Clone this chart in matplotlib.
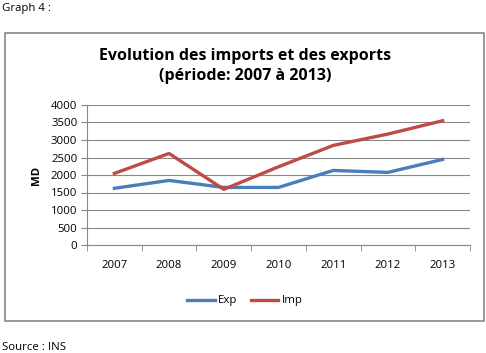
import matplotlib.pyplot as plt
from matplotlib.patches import Rectangle

years = ['2007', '2008', '2009', '2010', '2011', '2012', '2013']
exp_vals = [1620, 1845, 1645, 1645, 2130, 2075, 2445]
imp_vals = [2045, 2615, 1590, 2235, 2845, 3170, 3550]

plt.rcParams['font.family'] = ['Open Sans', 'DejaVu Sans']

fig = plt.figure(figsize=(4.86, 3.53), dpi=100)
W, H = 486, 353

# chart border
fig.patches.append(Rectangle((5 / W, 1 - 321 / H), 479 / W, 288 / H,
                             transform=fig.transFigure, fill=False,
                             edgecolor='#888888', linewidth=1.2))

fig.text(2 / W, 1 - 8 / H, 'Graph 4 :', fontsize=8.2, va='center', ha='left')
fig.text(2 / W, 1 - 347 / H, 'Source : INS', fontsize=8.2, va='center', ha='left')
fig.text(245 / W, 1 - 66 / H, 'Evolution des imports et des exports\n(période: 2007 à 2013)',
         fontsize=11.5, fontweight='bold', ha='center', va='center', linespacing=1.35)

ax = fig.add_axes([87 / W, 1 - 245 / H, 383 / W, 140 / H])
x = range(len(years))
ax.plot(x, exp_vals, color='#4A7EBB', linewidth=2.4, label='Exp')
ax.plot(x, imp_vals, color='#BE4B48', linewidth=2.4, label='Imp')

ax.set_xlim(-0.5, len(years) - 0.5)
ax.set_ylim(0, 4000)
ax.set_yticks(range(0, 4001, 500))
ax.set_xticks(list(x))
ax.set_xticklabels(years)
ax.set_xticks([i - 0.5 for i in range(len(years) + 1)], minor=True)
ax.tick_params(axis='x', which='major', length=0, pad=11, labelsize=8.2)
ax.tick_params(axis='x', which='minor', length=4, color='#888888')
ax.tick_params(axis='y', length=4, color='#888888', labelsize=8.2, pad=3)
ax.grid(axis='y', color='#888888', linewidth=0.8)
ax.set_axisbelow(True)
for s in ['top', 'right']:
    ax.spines[s].set_visible(False)
ax.spines['left'].set_color('#888888')
ax.spines['bottom'].set_color('#888888')
ax.set_ylabel('MD', fontsize=8.2, fontweight='bold', labelpad=6)

fig.legend(loc='center', bbox_to_anchor=(245 / W, 1 - 301 / H), ncol=2,
           frameon=False, fontsize=8.2, handlelength=2.4, columnspacing=1.2,
           handletextpad=0.3)

fig.savefig('out.png', dpi=100)
